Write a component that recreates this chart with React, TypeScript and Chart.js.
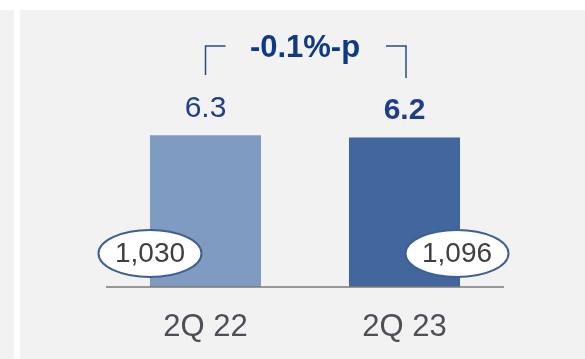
import React, { useEffect, useRef } from "react";
import { Chart, registerables } from "chart.js";

Chart.register(...registerables);

// Quarter categories and the ratio plotted as bars
const quarters = ["2Q 22", "2Q 23"];
const ratios = [6.3, 6.2];
// Headcount shown in the oval badges at each bar's foot
const counts = [1030, 1096];
const barColors = ["#7f9bc1", "#41679e"];
const boldValue = [false, true];

const FONT = '"Liberation Sans", Arial, Helvetica, sans-serif';

const decorPlugin = {
  id: "decor",
  beforeDraw(chart: any) {
    const ctx = chart.ctx as CanvasRenderingContext2D;
    ctx.save();
    ctx.fillStyle = "#ffffff";
    ctx.fillRect(0, 0, chart.width, chart.height);
    ctx.fillStyle = "#f2f2f2";
    ctx.fillRect(0, 10, 14, chart.height - 10);
    ctx.fillRect(20, 10, chart.width - 20, chart.height - 10);
    ctx.restore();
  },
  afterDatasetsDraw(chart: any) {
    const ctx = chart.ctx as CanvasRenderingContext2D;
    const area = chart.chartArea;
    const meta = chart.getDatasetMeta(0);
    const bars = meta.data as any[];
    ctx.save();

    // baseline
    ctx.strokeStyle = "#7a7a7a";
    ctx.lineWidth = 1.5;
    ctx.beginPath();
    ctx.moveTo(area.left, area.bottom);
    ctx.lineTo(area.right, area.bottom);
    ctx.stroke();

    // category labels
    ctx.fillStyle = "#514c58";
    ctx.font = `31px ${FONT}`;
    ctx.textAlign = "center";
    ctx.textBaseline = "alphabetic";
    quarters.forEach((q, i) => {
      ctx.fillText(q, bars[i].x, area.bottom + 49);
    });

    // value labels above bars
    ratios.forEach((v, i) => {
      ctx.fillStyle = "#1e3f88";
      ctx.font = `${boldValue[i] ? "bold " : ""}30px ${FONT}`;
      ctx.fillText(v.toFixed(1), bars[i].x, bars[i].y - 18.5);
    });

    // oval badges with counts
    const ovalOffsets = [-55.5, 52.5];
    counts.forEach((c, i) => {
      const cx = bars[i].x + ovalOffsets[i];
      const cy = area.bottom - 33.5;
      ctx.beginPath();
      ctx.ellipse(cx, cy, 51.5, 23.5, 0, 0, Math.PI * 2);
      ctx.fillStyle = "#ffffff";
      ctx.fill();
      ctx.strokeStyle = "#3f5f92";
      ctx.lineWidth = 2;
      ctx.stroke();
      ctx.fillStyle = "#3f3f3f";
      ctx.font = `28px ${FONT}`;
      ctx.textAlign = "center";
      ctx.textBaseline = "middle";
      ctx.fillText(c.toLocaleString("en-US"), cx, cy + 1);
    });

    // change bracket between the two quarters
    const x1 = bars[0].x;
    const x2 = bars[1].x + 1.5;
    const topY = 46;
    ctx.strokeStyle = "#2d4c82";
    ctx.lineWidth = 1.5;
    ctx.beginPath();
    ctx.moveTo(x1, 75);
    ctx.lineTo(x1, topY);
    ctx.lineTo(x1 + 20, topY);
    ctx.stroke();
    ctx.beginPath();
    ctx.moveTo(x2 - 20, topY);
    ctx.lineTo(x2, topY);
    ctx.lineTo(x2, 78);
    ctx.stroke();

    const diff = ratios[1] - ratios[0];
    const diffText = `${diff < 0 ? "-" : "+"}${Math.abs(diff).toFixed(1)}%-p`;
    ctx.fillStyle = "#0e3a82";
    ctx.font = `bold 31px ${FONT}`;
    ctx.textAlign = "center";
    ctx.textBaseline = "alphabetic";
    ctx.fillText(diffText, (bars[0].x + bars[1].x) / 2, 56.5);

    ctx.restore();
  },
};

export default function App() {
  const canvasRef = useRef<HTMLCanvasElement | null>(null);

  useEffect(() => {
    document.body.style.margin = "0";
    const canvas = canvasRef.current;
    if (!canvas) return;
    const chart = new Chart(canvas, {
      type: "bar",
      data: {
        labels: quarters,
        datasets: [
          {
            data: ratios,
            backgroundColor: barColors,
            borderWidth: 0,
            barPercentage: 0.558,
            categoryPercentage: 1,
          },
        ],
      },
      options: {
        animation: false,
        responsive: false,
        maintainAspectRatio: false,
        devicePixelRatio: 1,
        layout: { padding: { left: 106, right: 81, top: 46, bottom: 72 } },
        plugins: { legend: { display: false }, tooltip: { enabled: false } },
        scales: {
          x: { display: false },
          y: { display: false, min: 0, max: 10 },
        },
      },
      plugins: [decorPlugin],
    });
    return () => chart.destroy();
  }, []);

  return (
    <canvas
      ref={canvasRef}
      width={585}
      height={359}
      style={{ display: "block", width: 585, height: 359 }}
    />
  );
}
